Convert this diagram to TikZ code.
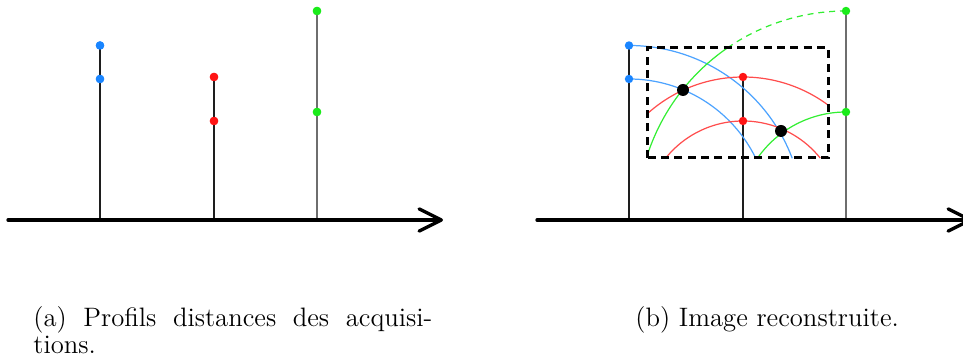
\documentclass[tikz,border=0pt]{standalone}
\usepackage{tikz}
\usetikzlibrary{arrows.meta}
\definecolor{Blue}{HTML}{1A85FF}
\definecolor{BlueArc}{HTML}{4DA3FF}
\definecolor{Red}{HTML}{FF1414}
\definecolor{RedArc}{HTML}{FF4D4D}
\definecolor{Green}{HTML}{1AEB1A}
\definecolor{GreenArc}{HTML}{33EE33}
\definecolor{Stem}{HTML}{1E1E1E}
\definecolor{StemGray}{HTML}{6E6E6E}
\tikzset{
  axis/.style={line width=1.5pt, line cap=round,
               -{Straight Barb[length=10pt,width=10pt,round]}},
  stem/.style={line width=0.5pt, draw=Stem},
  stemgray/.style={stem, draw=StemGray},
  dot/.style={circle, fill=#1, inner sep=0pt, minimum size=3.8pt},
  hit/.style={circle, fill=black, inner sep=0pt, minimum size=5.4pt},
  range/.style={line width=0.55pt, draw=#1},
  zone/.style={line width=1.35pt, dash pattern=on 3.6pt off 2.4pt},
  caption/.style={inner sep=0pt, font=\fontsize{12}{11.9}\selectfont},
}
\begin{document}
\begin{tikzpicture}[x=0.45pt, y=0.45pt]
  \useasboundingbox (0,0) rectangle (963,360);
  \clip (0,0) rectangle (963,360);

  % (a) profils distances
  \coordinate (a0) at (8,140);
  \coordinate (a1) at (443,140);
  \coordinate (ablue) at (100,140);
  \coordinate (ared) at (214,140);
  \coordinate (agreen) at (317,140);
  \node[dot=Blue] (abluehi) at (100,314.5) {};
  \node[dot=Blue] (abluelo) at (100,281) {};
  \node[dot=Red] (aredhi) at (214,283) {};
  \node[dot=Red] (aredlo) at (214,239) {};
  \node[dot=Green] (agreenhi) at (317,349) {};
  \node[dot=Green] (agreenlo) at (317,248) {};
  \draw[stem] (ablue) -- (abluehi.center);
  \draw[stem] (ared) -- (aredhi.center);
  \draw[stemgray] (agreen) -- (agreenhi.center);
  \node[dot=Blue] at (abluehi) {};
  \node[dot=Blue] at (abluelo) {};
  \node[dot=Red] at (aredhi) {};
  \node[dot=Red] at (aredlo) {};
  \node[dot=Green] at (agreenhi) {};
  \node[dot=Green] at (agreenlo) {};
  \draw[axis] (a0) -- (a1);

  % (b) image reconstruite
  \coordinate (b0) at (537,140);
  \coordinate (b1) at (972,140);
  \coordinate (bblue) at (629,140);
  \coordinate (bred) at (743,140);
  \coordinate (bgreen) at (846,140);
  \coordinate (bluehi) at (629,314.5);
  \coordinate (bluelo) at (629,281);
  \coordinate (redhi) at (743,283);
  \coordinate (redlo) at (743,239);
  \coordinate (greenhi) at (846,349);
  \coordinate (greenlo) at (846,248);
  \draw[stem] (bblue) -- (bluehi);
  \draw[stem] (bred) -- (redhi);
  \draw[stemgray] (bgreen) -- (greenhi);
  \draw[axis] (b0) -- (b1);

  \draw[range=BlueArc] (bluehi) arc[start angle=90, end angle=20.7, radius=174.5];
  \draw[range=BlueArc] (bluelo) arc[start angle=90, end angle=26.1, radius=141];
  \draw[range=RedArc] ([shift={(132.2:143)}]bred) arc[start angle=132.2, end angle=53.5, radius=143];
  \draw[range=RedArc] ([shift={(141.2:99)}]bred) arc[start angle=141.2, end angle=38.8, radius=99];
  \draw[range=GreenArc, dash pattern=on 2.7pt off 2.2pt] (greenhi) arc[start angle=90, end angle=124.6, radius=209];
  \draw[range=GreenArc] ([shift={(124.6:209)}]bgreen) arc[start angle=124.6, end angle=162.2, radius=209];
  \draw[range=GreenArc] (greenlo) arc[start angle=90, end angle=145, radius=108];

  \draw[zone] (647,202) rectangle (828,312);

  \node[dot=Blue] (bbluehi) at (bluehi) {};
  \node[dot=Blue] (bbluelo) at (bluelo) {};
  \node[dot=Red] (bredhi) at (redhi) {};
  \node[dot=Red] (bredlo) at (redlo) {};
  \node[dot=Green] (bgreenhi) at (greenhi) {};
  \node[dot=Green] (bgreenlo) at (greenlo) {};
  \node[hit] (cross1) at (683,270) {};
  \node[hit] (cross2) at (781,229) {};

  % legendes
  \node[caption, text width=179.5pt, align=justify, anchor=base west] (capa) at (33,33)
    {(a) Profils distances des acquisi-\linebreak tions.};
  \node[caption, anchor=base west] (capb) at (635,33) {(b) Image reconstruite.};
\end{tikzpicture}
\end{document}
